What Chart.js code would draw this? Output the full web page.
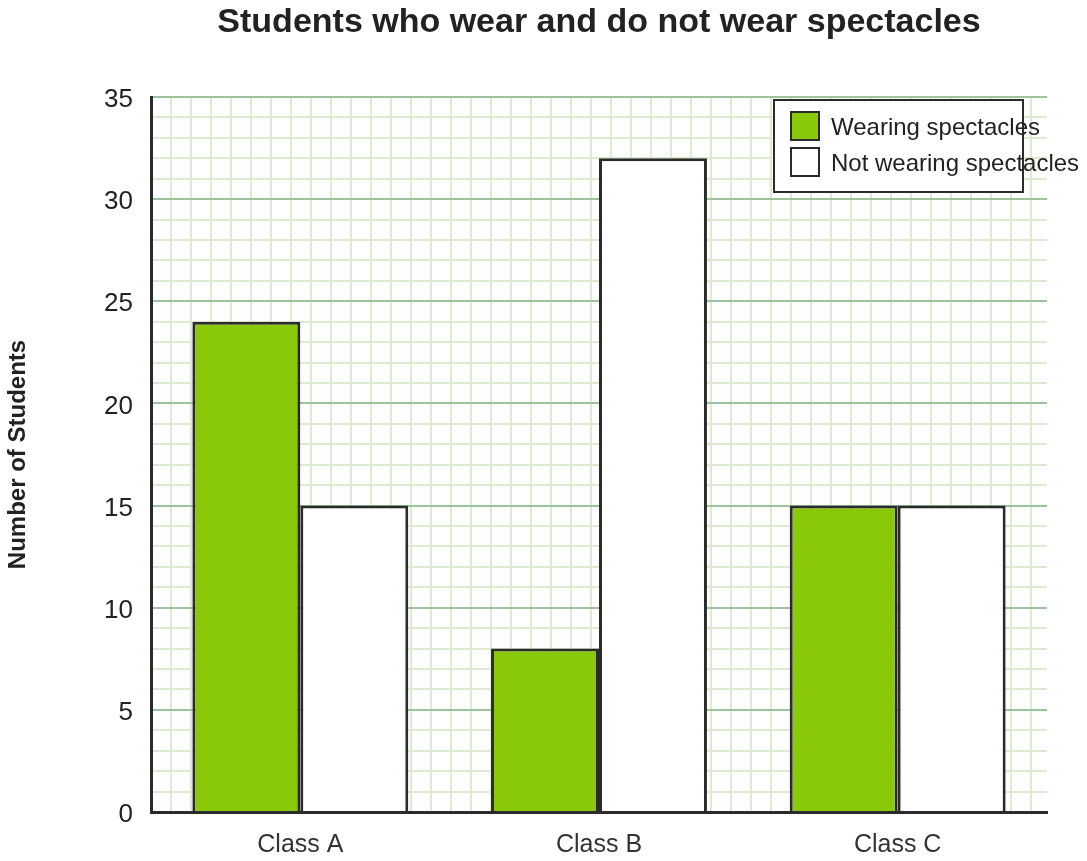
<!DOCTYPE html>
<html lang="en">
<head>
<meta charset="UTF-8">
<title>Students who wear and do not wear spectacles</title>
<script src="https://cdn.jsdelivr.net/npm/chart.js"></script>
<style>
  html, body { margin: 0; padding: 0; background: #fff; }
  #wrap { width: 1087px; height: 861px; }
</style>
</head>
<body>
<div id="wrap"><canvas id="chart" width="1087" height="861"></canvas></div>
<script>
// data
const categories = ['Class A', 'Class B', 'Class C'];
const wearing = [24, 8, 15];
const notWearing = [15, 32, 15];
const seriesNames = ['Wearing spectacles', 'Not wearing spectacles'];
const chartTitle = 'Students who wear and do not wear spectacles';
const yTitle = 'Number of Students';

const FONT = "'Liberation Sans', Arial, sans-serif";
const INK = '#2b2b2b';
const MAJOR = '#9cc49c';
const MINOR = '#dcebd0';

// title centred over the plot area + boxed legend in the top right
const decorations = {
  id: 'decorations',
  afterDraw(chart) {
    const { ctx, chartArea } = chart;
    ctx.save();
    ctx.fillStyle = '#222';
    ctx.font = 'bold 34px ' + FONT;
    ctx.textAlign = 'center';
    ctx.textBaseline = 'alphabetic';
    ctx.fillText(chartTitle, (chartArea.left + chartArea.right) / 2, 32);

    // legend (text runs past the box, as in the original)
    const bx = 774, by = 100, bw = 249, bh = 92;
    ctx.fillStyle = '#fff';
    ctx.fillRect(bx, by, bw, bh);
    ctx.strokeStyle = INK;
    ctx.lineWidth = 2;
    ctx.strokeRect(bx, by, bw, bh);
    ctx.font = '24px ' + FONT;
    ctx.textAlign = 'left';
    ctx.textBaseline = 'middle';
    chart.data.datasets.forEach((ds, i) => {
      const y = 112 + i * 36;
      ctx.fillStyle = ds.backgroundColor;
      ctx.fillRect(791, y, 28, 28);
      ctx.strokeRect(791, y, 28, 28);
      ctx.fillStyle = '#222';
      ctx.fillText(ds.label, 831, y + 16);
    });
    ctx.restore();
  }
};

new Chart(document.getElementById('chart'), {
  type: 'bar',
  data: {
    labels: categories,
    datasets: [
      {
        label: seriesNames[0],
        data: wearing,
        xAxisID: 'x',
        yAxisID: 'y',
        backgroundColor: '#8ac80a',
        borderColor: INK,
        borderWidth: 3,
        borderSkipped: 'bottom'
      },
      {
        label: seriesNames[1],
        data: notWearing,
        xAxisID: 'x',
        yAxisID: 'y',
        backgroundColor: '#ffffff',
        borderColor: INK,
        borderWidth: 3,
        borderSkipped: 'bottom'
      }
    ]
  },
  options: {
    responsive: false,
    animation: false,
    layout: { padding: { top: 97, right: 40, left: 0, bottom: 0 } },
    categoryPercentage: 0.723,
    barPercentage: 1,
    plugins: {
      legend: { display: false },
      title: { display: false },
      tooltip: { enabled: false }
    },
    scales: {
      x: {
        afterFit(s) { s.height = 49; },
        grid: { display: false, drawTicks: false },
        border: { color: INK, width: 3 },
        ticks: { color: '#333', font: { family: FONT, size: 25 }, padding: 18 }
      },
      grid2: {
        type: 'linear',
        axis: 'x',
        position: 'bottom',
        min: 0,
        max: 43.8,
        afterFit(s) { s.height = 0; },
        ticks: { display: false, stepSize: 1, includeBounds: false },
        border: { display: false },
        grid: { color: MINOR, lineWidth: 2, drawTicks: false }
      },
      y: {
        min: 0,
        max: 35,
        afterFit(s) { s.width = 151; },
        border: { color: INK, width: 3 },
        grid: {
          drawTicks: false,
          lineWidth: 2,
          color: c => (c.tick && c.tick.value % 5 === 0) ? MAJOR : MINOR
        },
        ticks: {
          stepSize: 1,
          autoSkip: false,
          padding: 18,
          labelOffset: 3,
          color: '#222',
          font: { family: FONT, size: 26 },
          callback: v => (v % 5 === 0 ? v : '')
        },
        title: {
          display: true,
          text: yTitle,
          color: '#222',
          font: { family: FONT, size: 24, weight: 'bold' },
          padding: { top: 4, bottom: 0 }
        }
      }
    }
  },
  plugins: [decorations]
});
</script>
</body>
</html>
